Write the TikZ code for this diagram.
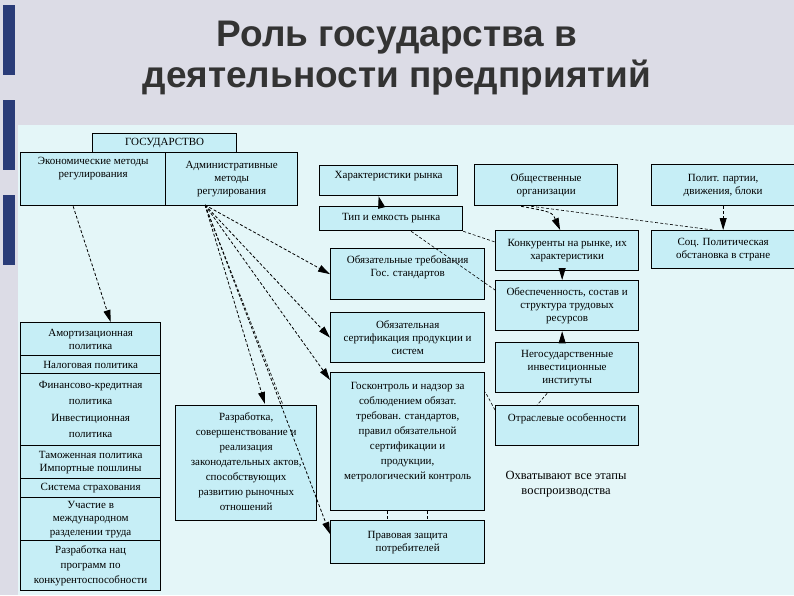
\documentclass[tikz,border=0pt]{standalone}
\usepackage{fontspec}
\setmainfont{Liberation Serif}
\newfontfamily\titlefont{Liberation Sans}
\usetikzlibrary{arrows.meta}
\definecolor{bgc}{HTML}{E4F6F8}
\definecolor{boxc}{HTML}{C6EEF6}
\definecolor{topc}{HTML}{DCDCE6}
\definecolor{stripc}{HTML}{2A3C78}
\begin{document}
\begin{tikzpicture}[x=1pt,y=-1pt,
  bx/.style={draw=black,line width=1.3pt,fill=boxc,font=\fontsize{11}{13}\selectfont,align=center,inner sep=1pt},
  ar/.style={densely dashed,line width=0.8pt,-{Triangle[length=12pt,width=7pt]}},
  ln/.style={densely dashed,line width=0.6pt}]
\useasboundingbox (0,0) rectangle (794,595);
\fill[bgc] (0,0) rectangle (794,595);
\fill[topc] (0,0) rectangle (794,125);
\fill[topc] (0,125) rectangle (18,595);
\foreach \y in {0,95,190}{\fill[stripc] (3,\y+5) rectangle (15,\y+75);}
\node[font=\titlefont\bfseries\fontsize{37}{41}\selectfont,text=black!80,align=center] (title) at (397,58) {Роль государства в\\деятельности предприятий};
\node[bx,minimum width=144,minimum height=19,anchor=north west] (gos) at (92,133) {ГОСУДАРСТВО};
\node[bx,minimum width=145,minimum height=53,anchor=north west,align=center,text depth=24pt] (econ) at (20,152) {Экономические методы\\регулирования};
\node[bx,minimum width=132,minimum height=53,anchor=north west] (adm) at (165,152) {Административные\\методы\\регулирования};
\node[bx,minimum width=138,minimum height=30,anchor=north west,text depth=12pt] (har) at (319,165) {Характеристики рынка};
\node[bx,minimum width=143,minimum height=24,anchor=north west,text depth=4pt] (tip) at (319,206) {Тип и емкость рынка};
\node[bx,minimum width=154,minimum height=51,anchor=north west,text depth=16pt] (tr) at (330,248) {Обязательные требования\\Гос. стандартов};
\node[bx,minimum width=154,minimum height=50,anchor=north west] (ser) at (330,312) {Обязательная\\сертификация продукции и\\систем};
\node[bx,minimum width=154,minimum height=138,anchor=north west,text depth=22pt,font=\fontsize{11}{15}\selectfont] (gk) at (330,372) {Госконтроль и надзор за\\соблюдением обязат.\\требован. стандартов,\\правил обязательной\\сертификации и\\продукции,\\метрологический контроль};
\node[bx,minimum width=154,minimum height=43,anchor=north west] (pz) at (330,520) {Правовая защита\\потребителей};
\node[bx,minimum width=141,minimum height=115,anchor=north west,text depth=4pt,font=\fontsize{11}{15}\selectfont] (raz) at (175,405) {Разработка,\\совершенствование и\\реализация\\законодательных актов,\\способствующих\\развитию рыночных\\отношений};
\node[bx,minimum width=143,minimum height=41,anchor=north west] (obs) at (474,164) {Общественные\\организации};
\node[bx,minimum width=143,minimum height=41,anchor=north west] (pol) at (651,164) {Полит. партии,\\движения, блоки};
\node[bx,minimum width=143,minimum height=40,anchor=north west] (kon) at (495,230) {Конкуренты на рынке, их\\характеристики};
\node[bx,minimum width=143,minimum height=38,anchor=north west] (soc) at (651,230) {Соц. Политическая\\обстановка в стране};
\node[bx,minimum width=143,minimum height=50,anchor=north west] (obe) at (495,280) {Обеспеченность, состав и\\структура трудовых\\ресурсов};
\node[bx,minimum width=143,minimum height=50,anchor=north west] (neg) at (495,342) {Негосударственные\\инвестиционные\\институты};
\node[bx,minimum width=143,minimum height=40,anchor=north west,text depth=16pt] (otr) at (495,405) {Отраслевые особенности};
\node[font=\fontsize{12.5}{15}\selectfont,align=center] (ohv) at (566,484) {Охватывают все этапы\\воспроизводства};
\node[bx,minimum width=140,minimum height=33,anchor=north west] (l1) at (20,322) {Амортизационная\\политика};
\node[bx,minimum width=140,minimum height=18,anchor=north west] (l2) at (20,355) {Налоговая политика};
\node[bx,minimum width=140,minimum height=72,anchor=north west,font=\fontsize{11}{16.5}\selectfont] (l3) at (20,373) {Финансово-кредитная\\политика\\Инвестиционная\\политика};
\node[bx,minimum width=140,minimum height=33,anchor=north west] (l4) at (20,445) {Таможенная политика\\Импортные пошлины};
\node[bx,minimum width=140,minimum height=19,anchor=north west] (l5) at (20,478) {Система страхования};
\node[bx,minimum width=140,minimum height=43,anchor=north west,font=\fontsize{11}{13.5}\selectfont] (l6) at (20,497) {Участие в\\международном\\разделении труда};
\node[bx,minimum width=140,minimum height=50,anchor=north west,font=\fontsize{11}{15}\selectfont] (l7) at (20,540) {Разработка нац\\программ по\\конкурентоспособности};
\draw[ar] ([xshift=-20pt]econ.south) -- ([xshift=20pt]l1.north);
\coordinate (af) at (205,205);
\draw[ar] (af) -- (tr.west);
\draw[ar] (af) -- (ser.west);
\draw[ar] (af) -- ([yshift=-8pt]gk.north west);
\draw[ar] (af) -- (265,404);
\draw[ln] (af) -- (283,405);
\draw[ar] (af) -- ([yshift=-14pt]pz.north west);
\draw[ar] ([xshift=-10pt]tip.north) -- ([xshift=-10pt]har.south);
\draw[ln] (tip.south east) -- ([yshift=-12pt]kon.north west);
\draw[ln] ([xshift=20pt]tip.south) -- ([yshift=-10pt]obe.north west);
\draw[ar] ([xshift=-25pt]obs.south) .. controls (552,212) .. ([xshift=-7pt]kon.north);
\draw[ln] ([xshift=-15pt]obs.south) -- ([xshift=-10pt]soc.north);
\draw[ar] (pol.south) -- (pol.south |- soc.north);
\draw[ar] ([xshift=-5pt]kon.south) -- ([xshift=-5pt]obe.north);
\draw[ar] ([xshift=-5pt]neg.north) -- ([xshift=-5pt]obe.south);
\draw[ln] ([xshift=-20pt]neg.south) -- ([xshift=-30pt]otr.north);
\draw[ln] ([yshift=-5pt]otr.north west) -- ([yshift=-20pt]gk.north east);
\draw[ln] ([xshift=-20pt]gk.south) -- ([xshift=-20pt]pz.north);
\draw[ln] ([xshift=20pt]gk.south) -- ([xshift=20pt]pz.north);
\end{tikzpicture}
\end{document}
